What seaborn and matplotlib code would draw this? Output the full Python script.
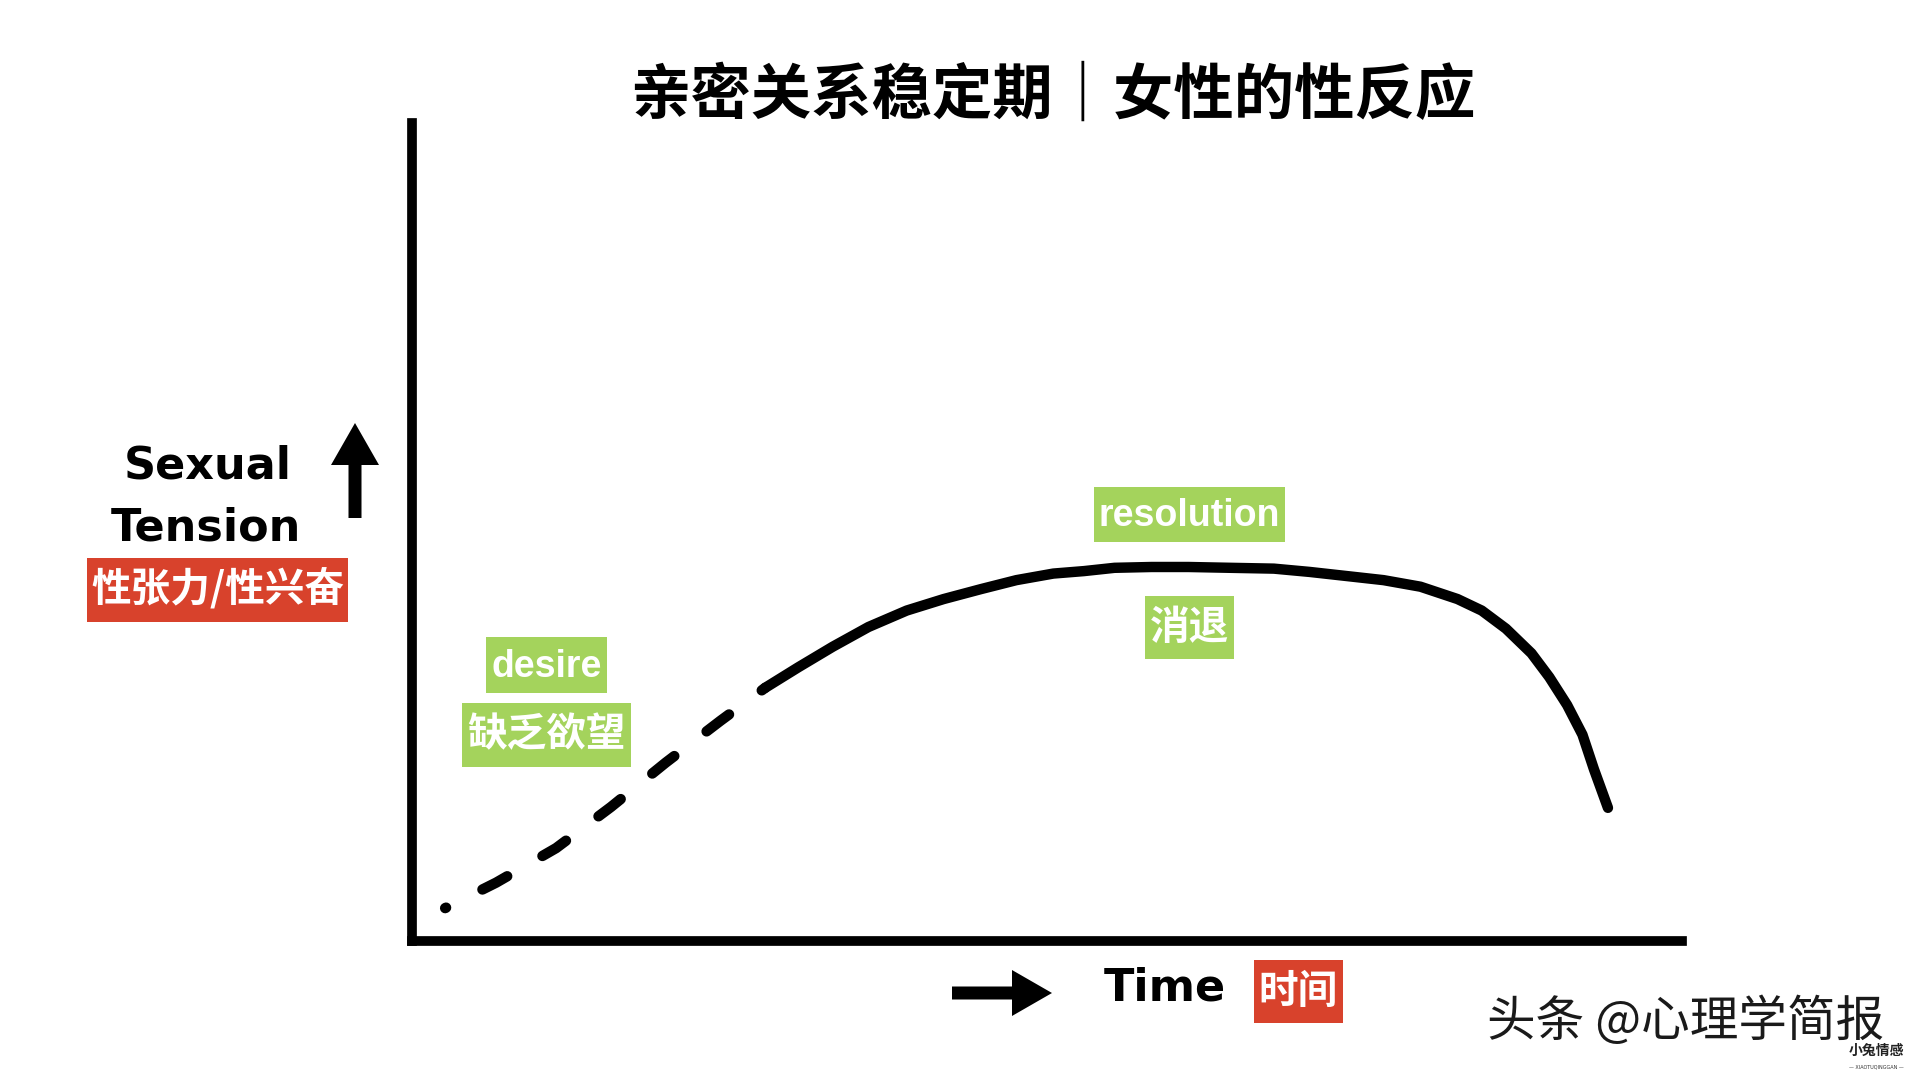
import matplotlib
matplotlib.use("Agg")
import matplotlib.pyplot as plt
import seaborn as sns
from matplotlib.patches import Rectangle, FancyArrow

# ---------------- data (time 0-100, sexual tension 0-100) ----------------
desire_time = [2.6, 6.6, 11.3, 15.6, 19.9, 24.2, 27.7]
desire_tension = [4.0, 7.1, 11.3, 16.3, 21.7, 26.8, 30.8]

response_time = [27.7, 30.3, 33.0, 35.8, 38.8, 41.7, 44.6, 47.4, 50.3, 52.7,
                 55.1, 58.0, 60.9, 64.2, 67.6, 70.4, 73.3, 76.2, 79.1, 82.0,
                 83.9, 85.8, 87.8, 89.2, 90.6, 91.8, 92.7, 93.8]
response_tension = [30.8, 33.3, 35.8, 38.2, 40.2, 41.6, 42.8, 43.9, 44.7, 45.0,
                    45.4, 45.5, 45.5, 45.4, 45.3, 44.9, 44.4, 43.9, 43.1, 41.6,
                    40.2, 38.0, 35.0, 32.1, 28.7, 25.1, 20.9, 16.2]

title_text = "亲密关系稳定期｜女性的性反应"
y_label_en = ["Sexual", "Tension"]
y_label_cn = "性张力/性兴奋"
x_label_en = "Time"
x_label_cn = "时间"
desire_en = "desire"
desire_cn = "缺乏欲望"
resolution_en = "resolution"
resolution_cn = "消退"
watermark = "头条 @心理学简报"
watermark_small = "小兔情感"
watermark_tiny = "— XIAOTUQINGGAN —"

# ---------------- style ----------------
sns.set_theme(style="white")
CJK = ["Noto Sans CJK SC", "DejaVu Sans"]
plt.rcParams["font.family"] = CJK

RED = "#D8422C"
GREEN = "#A4D35C"

fig = plt.figure(figsize=(19.2, 10.8), dpi=100)
fig.patch.set_facecolor("white")

# main axes (pixel box: x 412..1682, y 123..941)
ax = fig.add_axes([412 / 1920, 1 - 941 / 1080, 1270 / 1920, 818 / 1080])
ax.set_facecolor("white")

X0, XW, Y0, YH = 412, 1270, 941, 818
# convert (reading was done on a 1275 x 822 box) -> keep data on same pixel positions
scale_x = 1275 / XW
scale_y = 822 / YH

sns.lineplot(x=response_time, y=response_tension, ax=ax, color="black",
             linewidth=7.5, sort=False)
solid = ax.lines[-1]
solid.set_solid_capstyle("round")
solid.set_solid_joinstyle("round")

sns.lineplot(x=desire_time, y=desire_tension, ax=ax, color="black",
             linewidth=7.5, sort=False)
dashed = ax.lines[-1]
dashed.set_linestyle((2.6, (2.7, 3.9)))
dashed.set_dash_capstyle("round")
dashed.set_dash_joinstyle("round")

ax.set_xlim(0, 100 / scale_x)
ax.set_ylim(0, 100 / scale_y)
ax.set_xticks([])
ax.set_yticks([])
ax.set_xlabel("")
ax.set_ylabel("")
for side in ["top", "right"]:
    ax.spines[side].set_visible(False)
for side in ["left", "bottom"]:
    ax.spines[side].set_visible(True)
    ax.spines[side].set_color("black")
    ax.spines[side].set_linewidth(7.0)
    ax.spines[side].set_capstyle("projecting")

# ---------------- overlay in pixel coordinates ----------------
ov = fig.add_axes([0, 0, 1, 1])
ov.set_xlim(0, 1920)
ov.set_ylim(1080, 0)
ov.axis("off")
ov.patch.set_alpha(0)

# title
ov.text(1053, 96, title_text, ha="center", va="center", fontsize=43.5,
        fontweight="heavy", color="black", family=CJK)

# y label (english, scanned look)
ov.text(208, 466, y_label_en[0], ha="center", va="center", fontsize=32,
        fontweight="bold", color="black", family=["DejaVu Sans"])
ov.text(206, 528, y_label_en[1], ha="center", va="center", fontsize=32,
        fontweight="bold", color="black", family=["DejaVu Sans"])
ov.add_patch(FancyArrow(355, 518, 0, -95, width=13, head_width=48,
                        head_length=42, length_includes_head=True,
                        color="black", lw=0))


def label_box(x0, y0, x1, y1, text, face, size, family, weight="normal", dy=0):
    ov.add_patch(Rectangle((x0, y0), x1 - x0, y1 - y0, facecolor=face,
                           edgecolor="none"))
    ov.text((x0 + x1) / 2, (y0 + y1) / 2 + dy, text, ha="center", va="center",
            fontsize=size, color="white", family=family, fontweight=weight)


label_box(87, 558, 348, 622, y_label_cn, RED, 28.5, CJK, "semibold")
label_box(486, 637, 607, 693, desire_en, GREEN, 27, ["Liberation Sans"], "bold", 2)
label_box(462, 703, 631, 767, desire_cn, GREEN, 28.5, CJK, "semibold")
label_box(1094, 487, 1285, 542, resolution_en, GREEN, 27, ["Liberation Sans"], "bold", 2)
label_box(1145, 596, 1234, 659, resolution_cn, GREEN, 28.5, CJK, "semibold")

# x label
ov.add_patch(FancyArrow(952, 993, 100, 0, width=13, head_width=46,
                        head_length=40, length_includes_head=True,
                        color="black", lw=0))
ov.text(1165, 988, x_label_en, ha="center", va="center", fontsize=32,
        fontweight="bold", color="black", family=["DejaVu Sans"])
label_box(1254, 960, 1343, 1023, x_label_cn, RED, 28.5, CJK, "semibold")

# watermark
ov.text(1686, 1022, watermark, ha="center", va="center", fontsize=35,
        color="#1a1a1a", family=CJK, fontweight="normal")
ov.text(1876, 1051, watermark_small, ha="center", va="center", fontsize=10,
        color="#222222", family=["Noto Sans CJK SC", "DejaVu Sans"],
        fontweight="bold")
ov.text(1876, 1067, watermark_tiny, ha="center", va="center", fontsize=3.5,
        color="#333333", family=["DejaVu Sans"])

fig.savefig("out.png", dpi=100, facecolor="white")
